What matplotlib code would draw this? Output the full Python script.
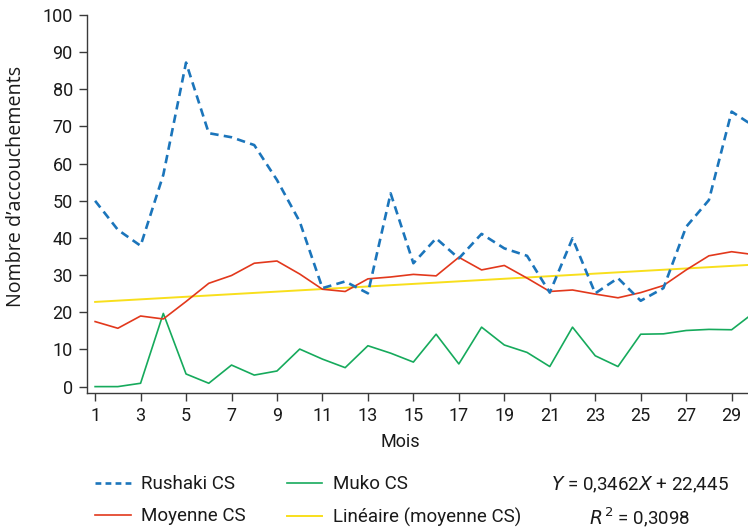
import matplotlib
matplotlib.use("Agg")
import matplotlib.pyplot as plt
from matplotlib.lines import Line2D
import numpy as np

mois = list(range(1, 31))
rushaki = [50.0, 42.2, 37.9, 57.0, 87.2, 68.2, 67.1, 65.0, 55.6, 44.4,
           26.5, 28.3, 25.1, 52.0, 33.2, 39.9, 34.5, 41.1, 37.2, 35.2,
           25.3, 39.9, 25.1, 29.2, 23.1, 26.5, 43.0, 50.2, 74.0, 70.0]
moyenne = [17.5, 15.7, 19.0, 18.2, 22.9, 27.8, 29.9, 33.2, 33.8, 30.3,
           26.2, 25.6, 29.0, 29.5, 30.2, 29.8, 34.8, 31.4, 32.6, 29.2,
           25.6, 26.0, 24.9, 23.9, 25.3, 27.2, 31.4, 35.2, 36.3, 35.5]
muko = [0.0, 0.0, 0.9, 19.7, 3.4, 0.9, 5.8, 3.1, 4.2, 10.1,
        7.4, 5.1, 11.0, 9.0, 6.6, 14.1, 6.1, 16.0, 11.2, 9.2,
        5.4, 16.0, 8.3, 5.4, 14.1, 14.2, 15.1, 15.4, 15.3, 20.0]
pente, ordonnee = 0.3462, 22.445
xticks = list(range(1, 30, 2))
yticks = list(range(0, 101, 10))

FONT = ["Roboto", "DejaVu Sans"]
plt.rcParams['font.family'] = FONT

W, H = 748, 528
fig = plt.figure(figsize=(W / 100, H / 100), dpi=100)
ax = fig.add_axes([86.7 / W, 1 - 393.3 / H, 1 - 86.7 / W, (393.3 - 15) / H])

c_blue = "#1b75bb"
c_red = "#e2381c"
c_green = "#16aa5c"
c_yellow = "#f8df1c"

x = np.array(mois, dtype=float)
ax.plot(x, pente * x + ordonnee, color=c_yellow, lw=1.4, zorder=2)
ax.plot(x, muko, color=c_green, lw=1.2, zorder=3)
ax.plot(x, moyenne, color=c_red, lw=1.2, zorder=4)
ax.plot(x, rushaki, color=c_blue, lw=1.9, dashes=(3.2, 2.0), zorder=5)

ax.set_xlim(0.63, 29.72)
ax.set_ylim(-1.8, 100)
ax.set_xticks(xticks)
ax.set_yticks(yticks)
for s in ["top", "right"]:
    ax.spines[s].set_visible(False)
for s in ["left", "bottom"]:
    ax.spines[s].set_color("#3a3a3a")
    ax.spines[s].set_linewidth(1.0)
ax.tick_params(axis="both", direction="out", length=6, width=1.0,
               color="#3a3a3a", labelsize=13, labelcolor="#1a1a1a", pad=4)

fig.text(400 / W, 1 - 442 / H, "Mois", ha="center", va="center",
         fontsize=13, color="#1a1a1a")
fig.text(16 / W, 1 - 186 / H, "Nombre d\u2019accouchements", rotation=90,
         ha="center", va="center", fontsize=14.2, color="#1a1a1a",
         family=["Open Sans", "DejaVu Sans"])

handles = [Line2D([0], [0], color=c_blue, lw=1.9, dashes=(2.2, 1.6)),
           Line2D([0], [0], color=c_red, lw=1.2),
           Line2D([0], [0], color=c_green, lw=1.2),
           Line2D([0], [0], color=c_yellow, lw=1.4)]
labels = ["Rushaki CS", "Moyenne CS", "Muko CS", "Lin\u00e9aire (moyenne CS)"]
leg = fig.legend(handles, labels, ncol=2, loc="center left",
                 bbox_to_anchor=(95 / W, 1 - 501 / H), frameon=False,
                 fontsize=13.5, handlelength=1.9, handletextpad=0.55,
                 columnspacing=2.2, labelspacing=0.75, borderpad=0,
                 borderaxespad=0, labelcolor="#1a1a1a")

fig.text(640 / W, 1 - 485 / H, r"$\it{Y}$ = 0,3462$\it{X}$ + 22,445",
         ha="center", va="center", fontsize=13.5, color="#1a1a1a")
fig.text(640 / W, 1 - 517 / H, r"$\it{R}$$^{\,2}$ = 0,3098",
         ha="center", va="center", fontsize=13.5, color="#1a1a1a")

fig.savefig("out.png", dpi=100)
